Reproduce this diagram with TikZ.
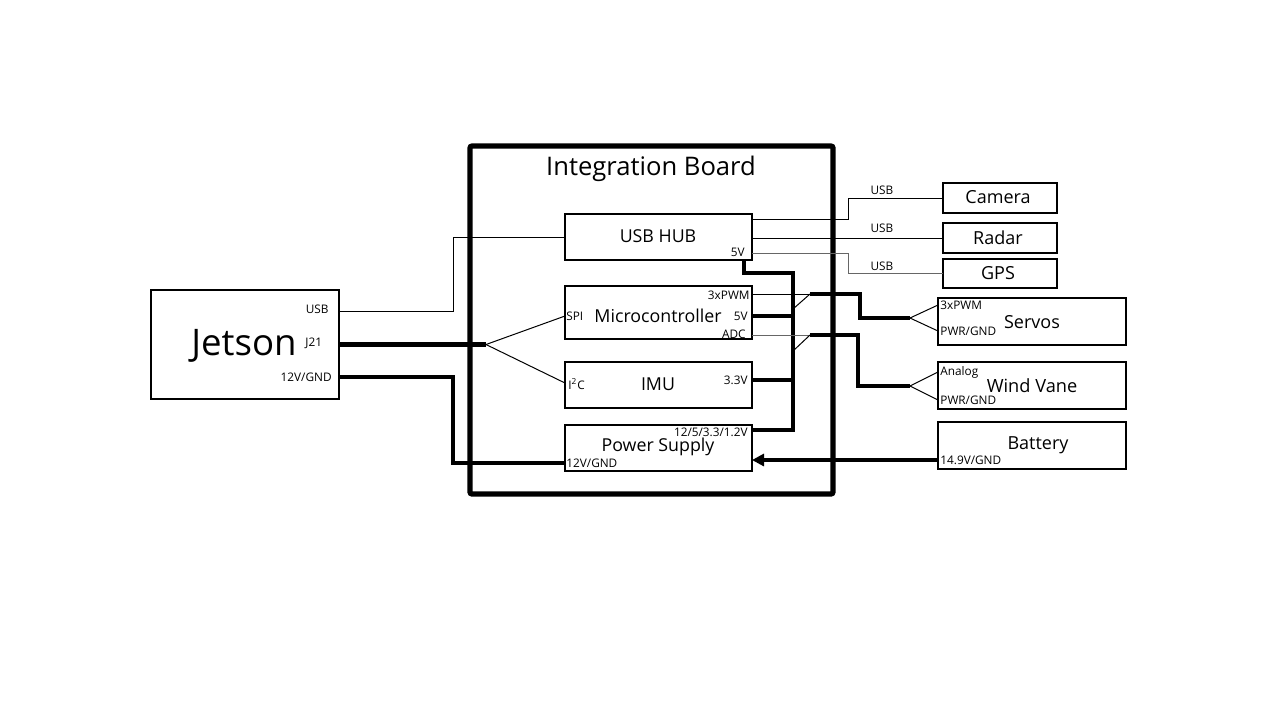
\documentclass[tikz,border=0pt]{standalone}
\usepackage{fontspec}
\setmainfont{Open Sans}
\usetikzlibrary{arrows.meta,calc,fit}
\begin{document}
\begin{tikzpicture}[x=0.5pt,y=-0.5pt,
  box/.style={draw,line width=0.55pt,inner sep=0pt,outer sep=0pt},
  board/.style={draw,line width=2.6pt,rounded corners=1pt,inner sep=0pt,outer sep=0pt},
  thinw/.style={line width=0.5pt},
  thickw/.style={line width=2.2pt},
  port/.style={font=\fontsize{5.9}{7}\selectfont,inner sep=0.5pt},
  title/.style={font=\fontsize{8.9}{10}\selectfont,inner sep=0pt},
  dev/.style={font=\fontsize{9}{10}\selectfont,inner sep=0pt}]
\useasboundingbox (0,0) rectangle (1280,720);
\fill[white] (0,0) rectangle (1280,720);

% Integration board
\node[board,fit={(470,146) (833,494)}] (ib) {};
\node[font=\fontsize{12.8}{14}\selectfont,inner sep=0pt] (ibt) at (651,169) {Integration Board};

% Jetson
\node[box,fit={(151,290) (339,399)}] (jet) {};
\node[font=\fontsize{18.3}{20}\selectfont,inner sep=0pt] (jett) at (244,346) {Jetson};
\node[port,anchor=east] (jusb) at (330,309) {USB};
\node[port,anchor=west] (jj21) at (304,343) {J21};
\node[port,anchor=east] (jpwr) at (333,377) {12V/GND};

% USB hub
\node[box,fit={(565,214) (752,260)}] (hub) {};
\node[title] (hubt) at (658,236) {USB HUB};
\node[port,anchor=east] (hub5) at (746,252) {5V};

% Microcontroller
\node[box,fit={(565,286) (752,339)}] (mcu) {};
\node[title] (mcut) at (658,316) {Microcontroller};
\node[port,anchor=west] (mspi) at (565,316) {SPI};
\node[port,anchor=east] (mpwm) at (751,295) {3xPWM};
\node[port,anchor=east] (m5v) at (749,316) {5V};
\node[port,anchor=east] (madc) at (747,334) {ADC};

% IMU
\node[box,fit={(565,362) (752,408)}] (imu) {};
\node[title] (imut) at (658,384) {IMU};
\node[port,anchor=west] (ii2c) at (567,384) {I\textsuperscript{2}C};
\node[port,anchor=east] (i33) at (749,380) {3.3V};

% Power supply
\node[box,fit={(565,425) (752,471)}] (ps) {};
\node[title] (pst) at (658,447) {Power Supply};
\node[port,anchor=east] (pout) at (749,432) {12/5/3.3/1.2V};
\node[port,anchor=west] (pin) at (565,463) {12V/GND};

% Camera, Radar, GPS
\node[box,fit={(943,183) (1057,213)}] (cam) {};
\node[dev] (camt) at (998,197) {Camera};
\node[box,fit={(943,223) (1057,253)}] (rad) {};
\node[dev] (radt) at (998,238) {Radar};
\node[box,fit={(943,259) (1057,288)}] (gps) {};
\node[dev] (gpst) at (998,273) {GPS};
\node[port] (u1) at (882,190) {USB};
\node[port] (u2) at (882,228) {USB};
\node[port] (u3) at (882,266) {USB};

% Servos, Wind vane, Battery
\node[box,fit={(938,298) (1126,345)}] (srv) {};
\node[dev] (srvt) at (1032,322) {Servos};
\node[port,anchor=west] (spwm) at (939,305) {3xPWM};
\node[port,anchor=west] (spwr) at (939,331) {PWR/GND};

\node[box,fit={(938,362) (1126,409)}] (wv) {};
\node[dev,font=\fontsize{9.1}{10}\selectfont] (wvt) at (1032,386) {Wind Vane};
\node[port,anchor=west] (wan) at (939,372) {Analog};
\node[port,anchor=west] (wpwr) at (939,400) {PWR/GND};

\node[box,fit={(938,422) (1126,469)}] (bat) {};
\node[dev] (batt) at (1038,445) {Battery};
\node[port,anchor=west] (bv) at (939,460) {14.9V/GND};

% Jetson connections
\draw[thinw] ($(jet.north east)+(0,21)$) -| (453,237) -- (hub.west);
\draw[thickw] (jet.east) -- (486,344.5) coordinate (split);
\draw[thinw] (split) -- ($(mcu.north west)+(0,30)$);
\draw[thinw] (split) -- ($(imu.north west)+(0,21)$);
\draw[thickw] ($(jet.north east)+(0,87)$) -| (453,463) -- ($(ps.north west)+(0,38)$);

% USB hub to devices
\draw[thinw] ($(hub.north east)+(0,5)$) -- (848,219) |- (cam.west);
\draw[thinw] (hub.east |- rad.west) -- (rad.west);
\draw[thinw,gray!80!black] ($(hub.north east)+(0,39)$) -- (848,253) |- (gps.west);

% Power bus
\draw[thickw] ($(hub.south east)+(-8,0)$) |- (793,273) -- (793,430) -- ($(ps.north east)+(0,5)$);
\draw[thickw] ($(mcu.north east)+(0,30)$) -- (793,316);
\draw[thickw] ($(imu.north east)+(0,18)$) -- (793,380);

% PWM to servos
\draw[thinw] ($(mcu.north east)+(0,8)$) -- (810,294) coordinate (pj);
\draw[thinw] (793,309) -- (pj);
\draw[thickw] (pj) -- (860,294) |- (910,318) coordinate (sj);
\draw[thinw] (sj) -- ($(srv.north west)+(0,7)$);
\draw[thinw] (sj) -- ($(srv.north west)+(0,33)$);

% ADC to wind vane
\draw[thinw,gray!80!black] ($(mcu.north east)+(0,49)$) -- (810,335) coordinate (aj);
\draw[thinw] (793,351) -- (aj);
\draw[thickw] (aj) -- (858,335) |- (910,386) coordinate (wj);
\draw[thinw] (wj) -- ($(wv.north west)+(0,10)$);
\draw[thinw] (wj) -- ($(wv.north west)+(0,38)$);

% Battery
\draw[thickw,-{Triangle[length=6pt,width=6pt]}] ($(bat.north west)+(0,38)$) -- (ps.east |- 0,460);
\end{tikzpicture}
\end{document}
